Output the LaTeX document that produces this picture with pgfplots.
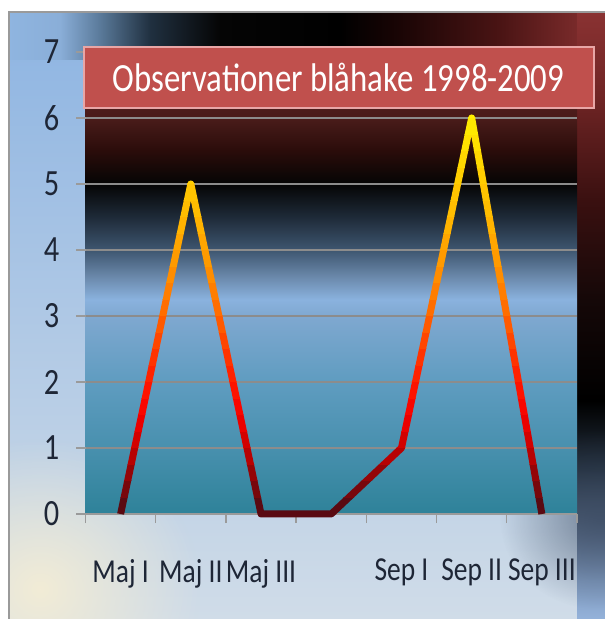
\documentclass[border=0pt]{standalone}
\usepackage{fontspec}
\setmainfont{Carlito}[FakeStretch=0.82]
\usepackage{pgfplots}
\pgfplotsset{compat=1.18}
\usepackage{pgfplotstable}
\usetikzlibrary{fadings}
\tikzfading[name=radfade, inner color=transparent!0, outer color=transparent!100]

% plot-area background
\definecolor{pbA}{HTML}{2E8299}
\definecolor{pbB}{HTML}{4890AE}
\definecolor{pbC}{HTML}{5F9CC0}
\definecolor{pbD}{HTML}{7FA8D0}
\definecolor{pbE}{HTML}{8AB2DE}
\definecolor{pbF}{HTML}{6A88AA}
\definecolor{pbG}{HTML}{3E5670}
\definecolor{pbH}{HTML}{1E2A38}
\definecolor{pbI}{HTML}{050505}
\definecolor{pbJ}{HTML}{2A0C0A}
\definecolor{pbK}{HTML}{4A1C1A}
\definecolor{pbL}{HTML}{5A2222}
\pgfdeclareverticalshading{plotbg}{100bp}{color(0bp)=(pbA); color(25bp)=(pbA); color(32.14bp)=(pbB); color(39.29bp)=(pbC); color(46.43bp)=(pbD); color(48.21bp)=(pbE); color(50.71bp)=(pbF); color(53.57bp)=(pbG); color(57.14bp)=(pbH); color(60.71bp)=(pbI); color(64.29bp)=(pbJ); color(67.86bp)=(pbK); color(75bp)=(pbL); color(100bp)=(pbL)}

% top strip
\definecolor{tsA}{HTML}{8FB5E0}
\definecolor{tsB}{HTML}{8AAED8}
\definecolor{tsC}{HTML}{5A7A9A}
\definecolor{tsD}{HTML}{203040}
\definecolor{tsE}{HTML}{050505}
\definecolor{tsF}{HTML}{000000}
\definecolor{tsG}{HTML}{1A0505}
\definecolor{tsH}{HTML}{4A1414}
\definecolor{tsI}{HTML}{8A3232}
\pgfdeclarehorizontalshading{topbg}{100bp}{color(0bp)=(tsA); color(25bp)=(tsA); color(29.35bp)=(tsB); color(32.7bp)=(tsC); color(36.9bp)=(tsD); color(42.75bp)=(tsE); color(52.8bp)=(tsF); color(57.8bp)=(tsG); color(66.2bp)=(tsH); color(75bp)=(tsI); color(100bp)=(tsI)}

% right strip
\definecolor{rsA}{HTML}{94B2DA}
\definecolor{rsB}{HTML}{7E98BC}
\definecolor{rsC}{HTML}{4E5E76}
\definecolor{rsD}{HTML}{24303E}
\definecolor{rsE}{HTML}{000000}
\definecolor{rsF}{HTML}{150808}
\definecolor{rsG}{HTML}{3A1010}
\definecolor{rsH}{HTML}{6E2424}
\definecolor{rsI}{HTML}{8A3232}
\pgfdeclareverticalshading{rightbg}{100bp}{color(0bp)=(rsA); color(25bp)=(rsA); color(28.2bp)=(rsB); color(33.15bp)=(rsC); color(37.3bp)=(rsD); color(43bp)=(rsE); color(51.3bp)=(rsF); color(59.5bp)=(rsG); color(67.75bp)=(rsH); color(75bp)=(rsI); color(100bp)=(rsI)}

\definecolor{baseTop}{HTML}{8DB4E2}
\definecolor{baseMid}{HTML}{A6C4E8}
\definecolor{baseBot}{HTML}{D0DCE8}
\definecolor{cream}{HTML}{F2ECD6}
\definecolor{dkcorner}{HTML}{3A4A62}
\definecolor{gridc}{HTML}{8C8C8C}
\definecolor{axc}{HTML}{9A9A9A}
\definecolor{labc}{HTML}{1E2636}
\definecolor{framec}{HTML}{9A9A9A}
\definecolor{titlefill}{HTML}{C0504D}
\definecolor{titledraw}{HTML}{E8A6A6}

\pgfplotstableread{
x y
0 0
1 5
2 0
3 0
4 1
5 6
6 0
}\linedata

\pgfplotsset{bandaxis/.style={scale only axis, width=491.5pt, xmin=-0.5, xmax=6.5, hide axis, anchor=south west, clip=true}}

\begin{document}
\begin{tikzpicture}[x=1pt,y=1pt]
\useasboundingbox (0,0) rectangle (605,619);
\fill[white] (0,0) rectangle (605,619);
\begin{scope}
\clip (8,0) rectangle (605,607);
\shade[top color=baseTop, middle color=baseMid, bottom color=baseBot] (8,0) rectangle (605,607);
\fill[cream, path fading=radfade] (-120,-120) rectangle (200,180);
\shade[shading=topbg] (8,559) rectangle (605,607);
\shade[shading=rightbg] (577,0) rectangle (605,607);
\fill[dkcorner, opacity=0.6, path fading=radfade] (500,10) rectangle (700,190);
\end{scope}
\shade[shading=plotbg] (85.5,105) rectangle (577,567);
\draw[framec, line width=1.6pt] (8.8,0) -- (8.8,607.2) -- (605,607.2);

\begin{axis}[name=main, at={(85.5pt,105pt)}, anchor=south west, scale only axis,
  width=491.5pt, height=462pt, xmin=-0.5, xmax=6.5, ymin=0, ymax=7,
  ytick={0,...,7}, xtick={-0.5,0.5,...,6.5}, xticklabels={,,,,,,,,},
  extra x ticks={0,...,6},
  extra x tick labels={Maj I,Maj II,Maj III,,Sep I,Sep II,Sep III},
  extra x tick style={major tick length=0pt, grid=none},
  ymajorgrids, grid style={color=gridc, line width=1.3pt},
  axis lines*=left, separate axis lines,
  y axis line style={draw=none}, x axis line style={color=axc, line width=1.3pt},
  tick align=outside, major tick length=9pt,
  tick style={color=axc, line width=1.3pt},
  /pgf/number format/assume math mode=true,
  yticklabel style={font=\fontsize{37}{40}\selectfont, color=labc, anchor=east, inner sep=0pt, xshift=-17pt},
  xticklabel style={font=\fontsize{33.5}{36}\selectfont, color=labc, anchor=north, inner sep=0pt, yshift=-45pt},
]
\addplot[draw=none] table[x=x,y=y]{\linedata};
\end{axis}

\foreach \lo/\hi/\RR/\GG/\BB in {
 -1/0.25/90/10/18, 0.25/0.5/120/7/12, 0.5/0.75/148/5/8, 0.75/1/183/2/3,
 1/1.25/211/0/0, 1.25/1.5/234/0/0, 1.5/1.75/248/6/0, 1.75/2/253/19/0,
 2/2.25/255/34/0, 2.25/2.5/255/51/0, 2.5/2.75/255/70/0, 2.75/3/255/90/0,
 3/3.25/255/109/0, 3.25/3.5/255/126/0, 3.5/3.75/255/141/0, 3.75/4/255/154/0,
 4/4.25/255/166/0, 4.25/4.5/255/179/0, 4.5/4.75/255/189/0, 4.75/5/255/196/0,
 5/5.25/255/205/0, 5.25/5.5/255/215/0, 5.5/5.75/255/225/0, 5.75/6/255/234/0,
 6/7/255/240/0}{
  \pgfmathsetmacro\hh{(\hi-\lo+0.006)*66}
  \pgfmathsetmacro\yy{105+\lo*66}
  \pgfmathsetmacro\ytop{\hi+0.006}
  \definecolor{bandc}{RGB}{\RR,\GG,\BB}
  \begin{axis}[bandaxis, at={(85.5pt,\yy pt)}, height=\hh pt, ymin=\lo, ymax=\ytop]
  \addplot[bandc, line width=7pt, line join=round, line cap=butt, mark=none] table[x=x,y=y]{\linedata};
  \end{axis}
}

\draw[titledraw, line width=2pt, fill=titlefill] (83.6,511) rectangle (593.5,572);
\node[white, font=\fontsize{40}{44}\selectfont, inner sep=0pt] at (338.5,541.5) {Observationer blåhake 1998-2009};
\end{tikzpicture}
\end{document}
